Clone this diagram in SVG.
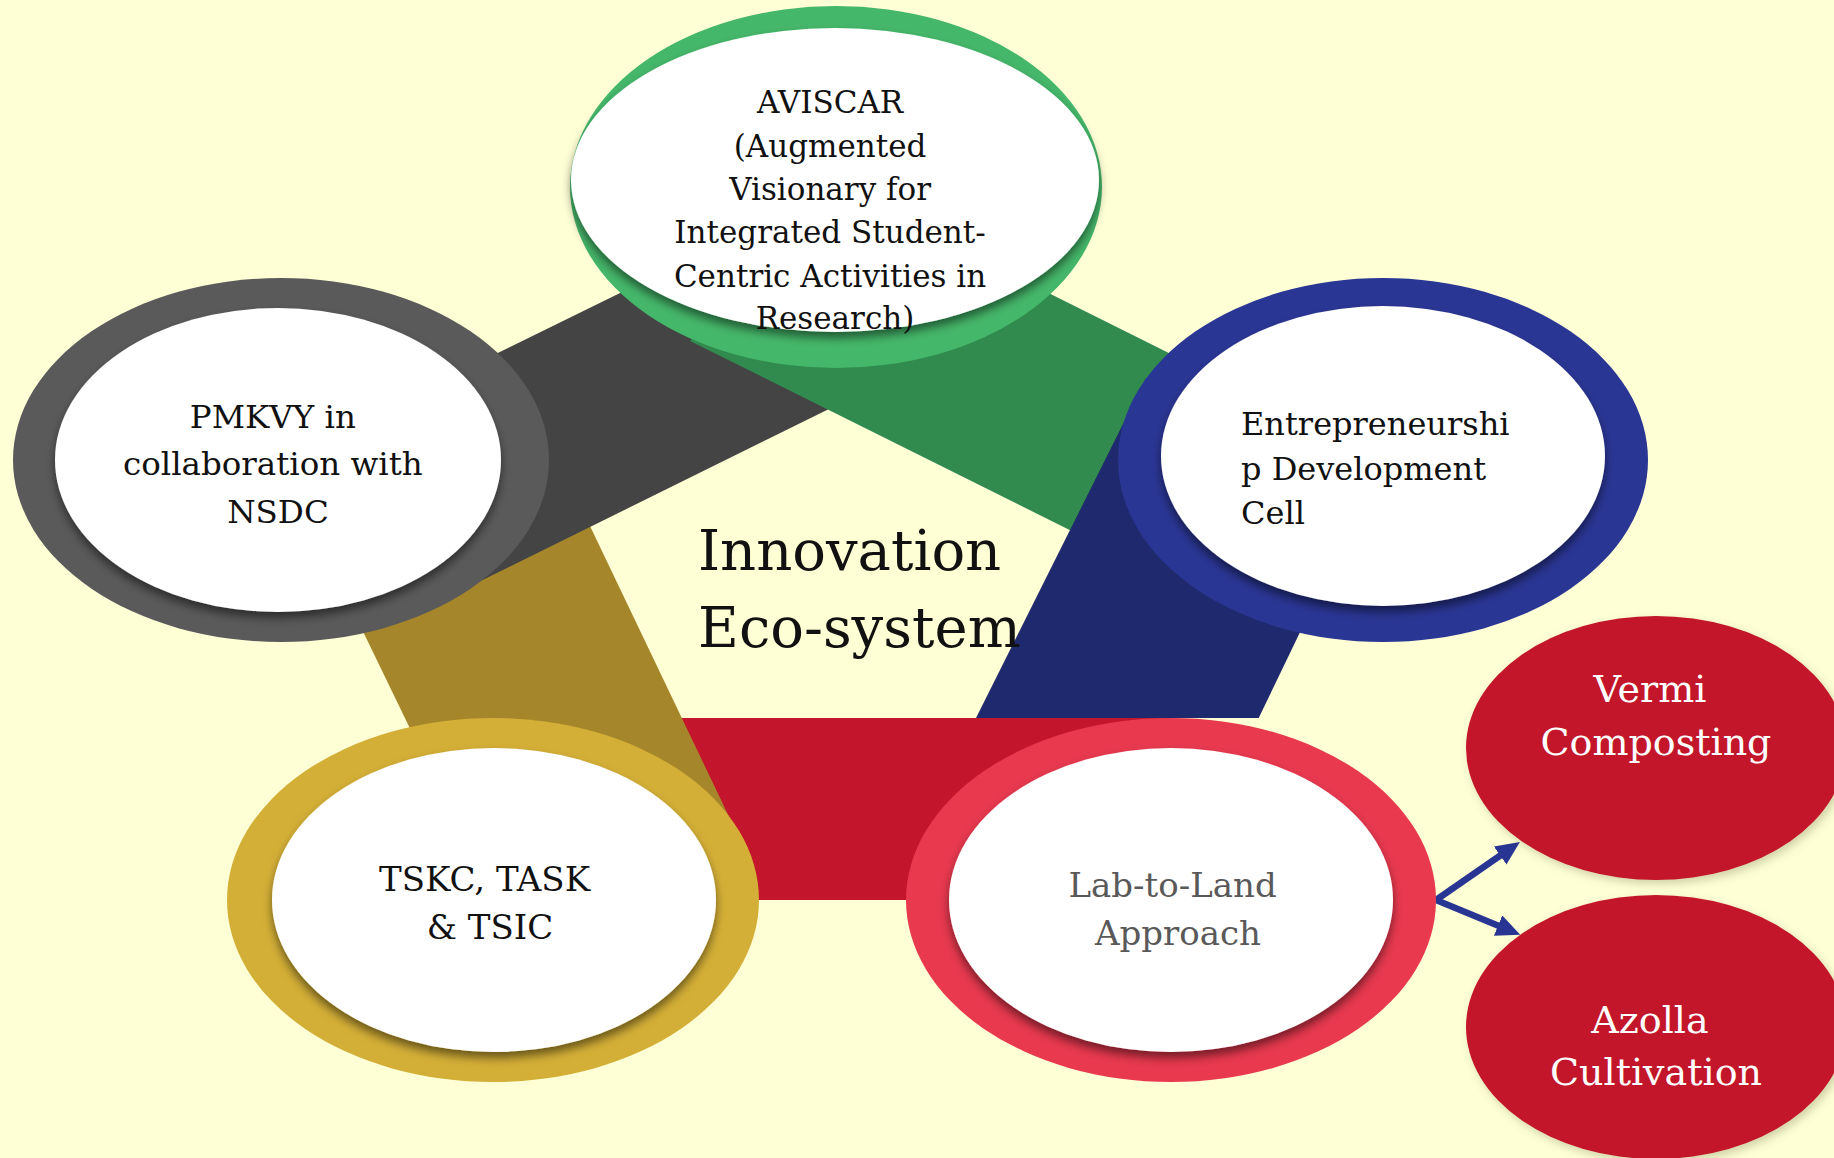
<svg xmlns="http://www.w3.org/2000/svg" width="1834" height="1158" viewBox="0 0 1834 1158">
<defs>
<style>
.inner{fill:#ffffff;filter:url(#sh);}
.lbl{font-family:"DejaVu Serif","Liberation Serif",serif;fill:#111111;}
.wlbl{font-family:"DejaVu Serif","Liberation Serif",serif;fill:#ffffff;font-size:38px;text-anchor:middle;}
.arrow{stroke:#283593;stroke-width:6.5;fill:none;marker-end:url(#ah);}
</style>
<filter id="sh" x="-10%" y="-10%" width="120%" height="130%">
<feDropShadow dx="0" dy="6" stdDeviation="5" flood-color="#000000" flood-opacity="0.5"/>
</filter>
<filter id="sh2" x="-10%" y="-10%" width="125%" height="130%">
<feDropShadow dx="3" dy="4" stdDeviation="4" flood-color="#6b6b40" flood-opacity="0.3"/>
</filter>
<marker id="ah" viewBox="0 0 24 22" markerWidth="24" markerHeight="22" markerUnits="userSpaceOnUse" refX="1" refY="11" orient="auto">
<path d="M0,0 L24,11 L0,22 z" fill="#283593"/>
</marker>
</defs>
<rect x="0" y="0" width="1834" height="1158" fill="#FFFFD6"/>

<g id="connectors">
<rect id="band-red" x="493" y="718" width="678" height="182" fill="#C3152B"/>
<polygon id="band-gold" points="280,460 493,900 744,848 568,480" fill="#A6862A"/>
<polygon id="band-gray" points="280,460 836,187 900,374 440,601" fill="#444444"/>
<polygon id="band-green" points="836,187 1383,460 1150,570 690,341" fill="#318A4E"/>
<polygon id="band-blue" points="1146,378 1383,460 1258.7,718 976,718" fill="#1F2A6E"/>
<line class="arrow" x1="1436" y1="900" x2="1501" y2="855"/>
<line class="arrow" x1="1436" y1="900" x2="1499" y2="926"/>
</g>

<g id="node-aviscar">
<ellipse cx="836" cy="187" rx="266" ry="181" fill="#45B76A"/>
<ellipse class="inner" cx="835" cy="180" rx="264" ry="152"/>
<text class="lbl" font-size="31" text-anchor="middle">
<tspan x="835" y="113">AVISCAR</tspan>
<tspan x="835" y="157">(Augmented</tspan>
<tspan x="835" y="200">Visionary for</tspan>
<tspan x="835" y="243">Integrated Student-</tspan>
<tspan x="835" y="287">Centric Activities in</tspan>
<tspan x="835" y="329">Research)</tspan>
</text>
</g>

<g id="node-pmkvy">
<ellipse cx="281" cy="460" rx="268" ry="182" fill="#5A5A5A"/>
<ellipse class="inner" cx="278" cy="460" rx="223" ry="152"/>
<text class="lbl" font-size="32.5" text-anchor="middle">
<tspan x="278" y="428">PMKVY in</tspan>
<tspan x="278" y="475">collaboration with</tspan>
<tspan x="278" y="523">NSDC</tspan>
</text>
</g>

<g id="node-edc">
<ellipse cx="1383" cy="460" rx="265" ry="182" fill="#2A3694"/>
<ellipse class="inner" cx="1383" cy="456" rx="222" ry="150"/>
<text class="lbl" font-size="32">
<tspan x="1241" y="435">Entrepreneurshi</tspan>
<tspan x="1241" y="480">p Development</tspan>
<tspan x="1241" y="524">Cell</tspan>
</text>
</g>

<g id="node-tskc">
<ellipse cx="493" cy="900" rx="266" ry="182" fill="#D4AF37"/>
<ellipse class="inner" cx="494" cy="900" rx="222" ry="152"/>
<text class="lbl" font-size="34" text-anchor="middle">
<tspan x="490" y="891">TSKC, TASK</tspan>
<tspan x="490" y="939">&amp; TSIC</tspan>
</text>
</g>

<g id="node-lab">
<ellipse cx="1171" cy="900" rx="265" ry="182" fill="#E8394F"/>
<ellipse class="inner" cx="1171" cy="900" rx="222" ry="152"/>
<text class="lbl" font-size="34" text-anchor="middle" style="fill:#595959">
<tspan x="1178" y="897">Lab-to-Land</tspan>
<tspan x="1178" y="945">Approach</tspan>
</text>
</g>

<g id="node-center">
<text class="lbl" font-size="56">
<tspan x="698" y="570">Innovation</tspan>
<tspan x="698" y="647">Eco-system</tspan>
</text>
</g>

<g id="node-vermi">
<ellipse cx="1656" cy="748" rx="190" ry="132" fill="#C3162C" filter="url(#sh2)"/>
<text class="wlbl">
<tspan x="1656" y="702">Vermi</tspan>
<tspan x="1656" y="755">Composting</tspan>
</text>
</g>

<g id="node-azolla">
<ellipse cx="1656" cy="1027" rx="190" ry="132" fill="#C3162C" filter="url(#sh2)"/>
<text class="wlbl">
<tspan x="1656" y="1033">Azolla</tspan>
<tspan x="1656" y="1085">Cultivation</tspan>
</text>
</g>
</svg>
